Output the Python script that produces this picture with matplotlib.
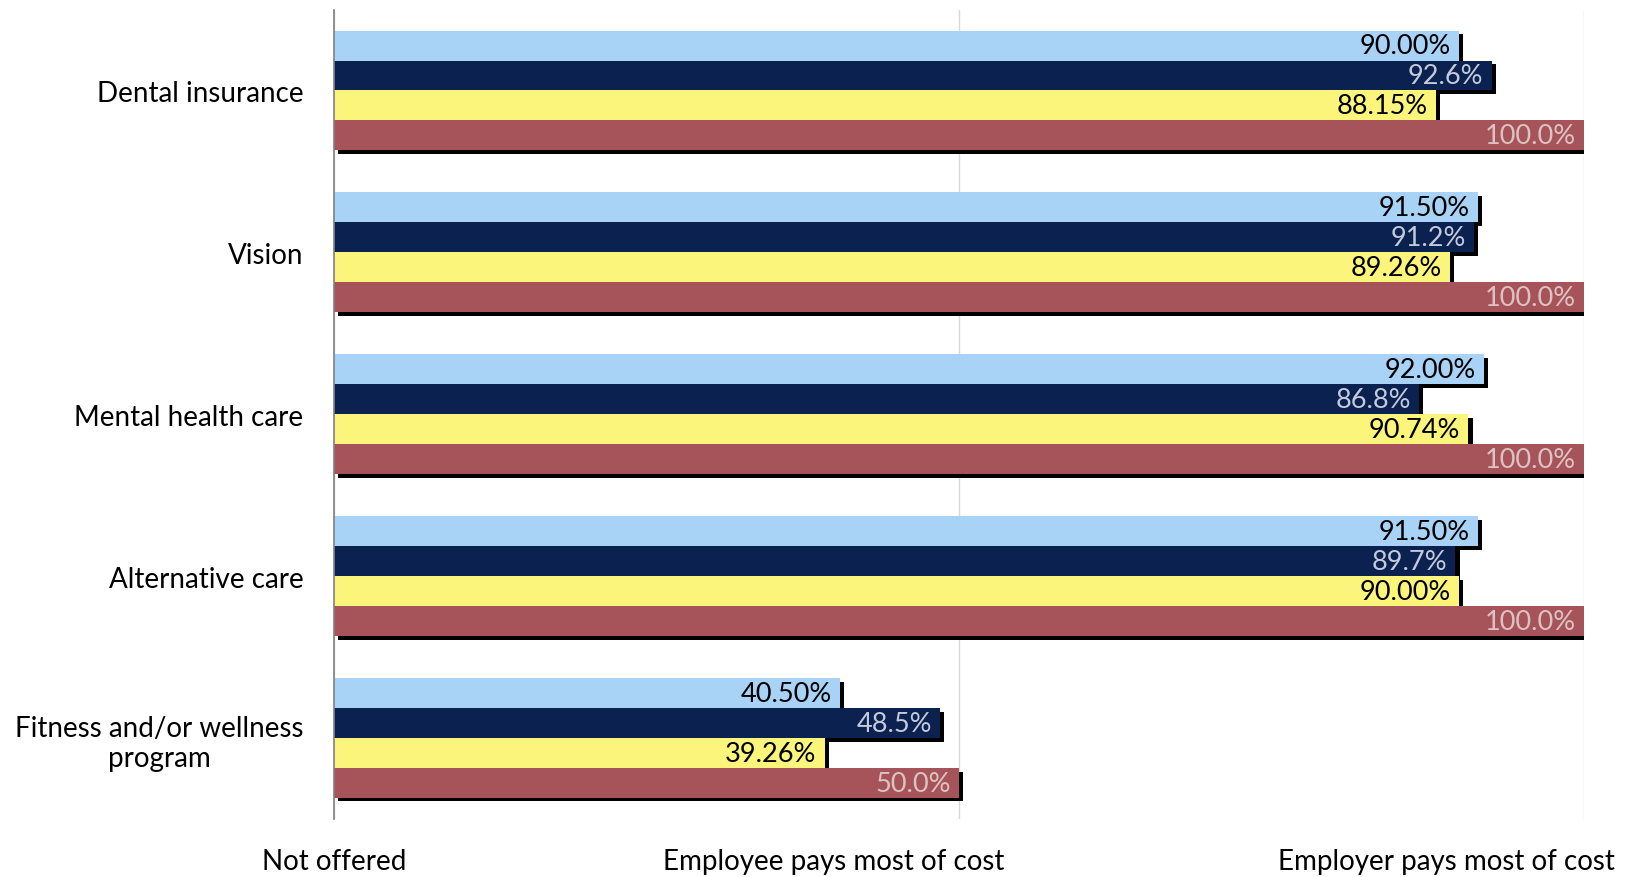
import matplotlib
matplotlib.use("Agg")
import matplotlib.pyplot as plt
import matplotlib.patheffects as pe
import numpy as np

plt.rcParams['font.family'] = ['Lato', 'DejaVu Sans']

categories = ["Dental insurance", "Vision", "Mental health care",
              "Alternative care", "Fitness and/or wellness\nprogram"]
series_a = [90.00, 91.50, 92.00, 91.50, 40.50]
series_b = [92.6, 91.2, 86.8, 89.7, 48.5]
series_c = [88.15, 89.26, 90.74, 90.00, 39.26]
series_d = [100.0, 100.0, 100.0, 100.0, 50.0]
label_a = ["90.00%", "91.50%", "92.00%", "91.50%", "40.50%"]
label_b = ["92.6%", "91.2%", "86.8%", "89.7%", "48.5%"]
label_c = ["88.15%", "89.26%", "90.74%", "90.00%", "39.26%"]
label_d = ["100.0%", "100.0%", "100.0%", "100.0%", "50.0%"]
scale_labels = ["Not offered", "Employee pays most of cost", "Employer pays most of cost"]
scale_label_x = [0, 40, 89]

colors = ["#a8d3f6", "#0b2150", "#fbf57c", "#a65459"]
text_colors = ["#000000", "#c3cadb", "#000000", "#dcc3c3"]

fig = plt.figure(figsize=(16.39, 8.78), dpi=100)
ax = fig.add_axes([0.2038, 0.066, 0.7627, 0.922])

y = np.arange(len(categories))
h = 0.185
series = [series_a, series_b, series_c, series_d]
labels = [label_a, label_b, label_c, label_d]
offsets = [-1.5, -0.5, 0.5, 1.5]
shadow = [pe.SimplePatchShadow(offset=(3, -2.5), shadow_rgbFace='black', alpha=1.0), pe.Normal()]

for vals, labs, col, tcol, off in zip(series, labels, colors, text_colors, offsets):
    bars = ax.barh(y + off * h, vals, height=h, color=col, zorder=3)
    for b in bars:
        b.set_path_effects(shadow)
    for yy, v, lab in zip(y + off * h, vals, labs):
        ax.annotate(lab, xy=(v, yy), xytext=(-6, 0), textcoords='offset points',
                    ha='right', va='center', fontsize=19.5, color=tcol, zorder=4)

ax.set_xlim(0, 100)
ax.set_ylim(4.5, -0.5)
ax.set_yticks(y)
ax.set_yticklabels(categories, fontsize=20, multialignment='center')
ax.tick_params(axis='y', length=0, pad=22)
ax.set_xticks([0, 50, 100])
ax.set_xticklabels([])
ax.tick_params(axis='x', length=0)
ax.grid(axis='x', color='#d9d9d9', linewidth=1, zorder=0)
for s in ['top', 'right', 'bottom']:
    ax.spines[s].set_visible(False)
ax.spines['left'].set_color('#808080')
ax.spines['left'].set_linewidth(1.2)
ax.spines['left'].set_zorder(5)

for lab, xv in zip(scale_labels, scale_label_x):
    ax.annotate(lab, xy=(xv, 0), xycoords=('data', 'axes fraction'),
                xytext=(0, -30), textcoords='offset points',
                ha='center', va='center', fontsize=20, color='black')

fig.savefig("out.png", dpi=100)
